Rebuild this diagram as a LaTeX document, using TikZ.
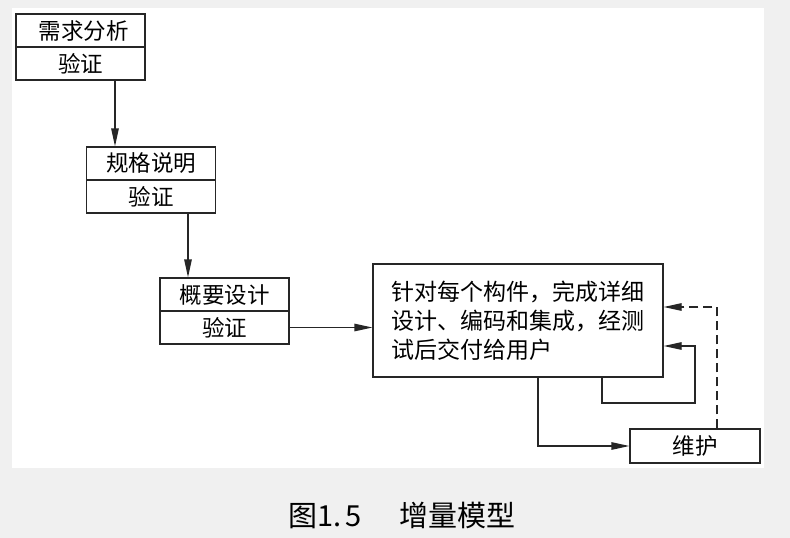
\documentclass[tikz,border=0pt]{standalone}
\usepackage{fontspec}
\setmainfont{Noto Sans CJK SC}
\usetikzlibrary{arrows.meta}
\begin{document}
\begin{tikzpicture}[x=1pt,y=-1pt,
  box/.style={draw=black!85, line width=1.3pt, minimum width=129pt, minimum height=33pt, inner sep=0pt, font=\fontsize{22.5}{26}\selectfont},
  conn/.style={draw=black!85, line width=1.3pt, -{Triangle[length=18pt,width=7.5pt]}},
  dashconn/.style={conn, dash pattern=on 9pt off 5pt}]
\useasboundingbox (0,0) rectangle (790,538);
\fill[black!6] (0,0) rectangle (790,538);
\fill[white] (12,8) rectangle (764,468);
% boxes
\node[box] (a1) at (80.5,30.5) {\hspace{6pt}需求分析};
\node[box] (a2) at (80.5,63.5) {验证};
\node[box] (b1) at (151,163.5) {规格说明};
\node[box] (b2) at (151,196.5) {验证};
\node[box] (c1) at (224.5,294.5) {概要设计};
\node[box] (c2) at (224.5,327.5) {验证};
\node[box, minimum width=290pt, minimum height=113pt, align=left, font=\fontsize{23}{29}\selectfont] (d) at (518,320.5) {针对每个构件，完成详细\\设计、编码和集成，经测\\试后交付给用户};
\node[box, minimum width=130pt, minimum height=34pt] (e) at (695,446) {维护};
% helper coordinates
\coordinate (x1) at (115,0);
\coordinate (x2) at (188,0);
\coordinate (m0) at (538,0);
\coordinate (lp0) at (602,0);
\coordinate (lp1) at (695,403);
\coordinate (lp2) at (695,346);
\coordinate (ds0) at (717,0);
\coordinate (ds) at (717,307);
% connectors
\draw[conn] (a2.south -| x1) -- (b1.north -| x1);
\draw[conn] (b2.south -| x2) -- (c1.north -| x2);
\draw[conn] (c2.east) -- (c2.east -| d.west);
\draw[conn] (d.south -| m0) |- (e.west);
\draw[conn] (d.south -| lp0) |- (lp1) -- (lp2) -- (d.east |- lp2);
\draw[dashconn] (e.north -| ds0) -- (ds) -- (d.east |- ds);
% caption
\node[font=\fontsize{29}{32}\selectfont] (cap) at (402,515) {图1.\hspace{0.15em}5\hspace{1.3em}增量模型};
\end{tikzpicture}
\end{document}
